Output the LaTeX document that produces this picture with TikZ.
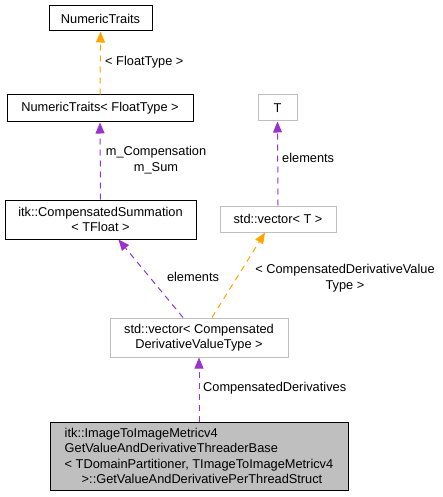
\documentclass[tikz,border=0pt]{standalone}
\usepackage{fontspec}
\setmainfont{Liberation Sans}
\usetikzlibrary{arrows.meta,calc}
\definecolor{edgepurple}{HTML}{9A32CD}
\definecolor{edgeorange}{HTML}{FFA500}
\definecolor{greyborder}{HTML}{BFBFBF}
\definecolor{greyfill}{HTML}{BFBFBF}
\begin{document}
\begin{tikzpicture}[x=1pt,y=-1pt,
  every node/.style={font=\fontsize{12.8}{15.5}\selectfont, inner sep=0pt},
  cls/.style={draw=black, fill=white, line width=1pt, align=center},
  ext/.style={draw=greyborder, fill=white, line width=1pt, align=center},
  lbl/.style={align=center},
  pedge/.style={draw=edgepurple, dashed, dash pattern=on 6pt off 5pt, line width=1pt, -{Triangle[length=11pt,width=9pt]}},
  oedge/.style={draw=edgeorange, dashed, dash pattern=on 6pt off 5pt, line width=1pt, -{Triangle[length=11pt,width=9pt]}}
]
\useasboundingbox (0,0) rectangle (443,497);
\node[cls, minimum width=103pt, minimum height=25pt] (nt) at (100.5,18.5) {NumericTraits};
\node[cls, minimum width=186pt, minimum height=27pt] (ntf) at (100,108.5) {NumericTraits< FloatType >};
\node[ext, minimum width=39pt, minimum height=26pt] (t) at (277.5,108) {T};
\node[cls, minimum width=191pt, minimum height=39pt] (cs) at (100.5,219.5) {itk::CompensatedSummation\\< TFloat >};
\node[ext, minimum width=116pt, minimum height=26pt] (vt) at (278,219) {std::vector< T >};
\node[ext, minimum width=178pt, minimum height=39pt] (vc) at (199,337.5) {std::vector< Compensated\\DerivativeValueType >};
\node[cls, fill=greyfill, minimum width=298pt, minimum height=68pt, align=left] (main) at (199,456)
  {itk::ImageToImageMetricv4\\GetValueAndDerivativeThreaderBase\\< TDomainPartitioner, TImageToImageMetricv4\\\hspace*{17pt}>::GetValueAndDerivativePerThreadStruct};

\draw[oedge] (ntf.north) -- (nt.south);
\node[lbl, anchor=west] at (105,62) {< FloatType >};

\draw[pedge] (cs.north) -- (ntf.south);
\node[lbl] at (156,160) {m\_Compensation\\m\_Sum};

\draw[pedge] (vt.north) -- (t.south);
\node[lbl, anchor=west] at (282,158) {elements};

\coordinate (vcl) at ($(vc.north)+(-16,0)$);
\coordinate (csb) at ($(cs.south)+(18,0)$);
\draw[pedge] (vcl) -- (csb);
\node[lbl] at (193,277) {elements};

\coordinate (vcr) at ($(vc.north)+(13,0)$);
\coordinate (vtb) at ($(vt.south)+(-13,0)$);
\draw[oedge] (vcr) -- (vtb);
\node[lbl] at (345,278) {< CompensatedDerivativeValue\\Type >};

\draw[pedge] (main.north) -- (vc.south);
\node[lbl, anchor=west] at (203,388) {CompensatedDerivatives};
\end{tikzpicture}
\end{document}
